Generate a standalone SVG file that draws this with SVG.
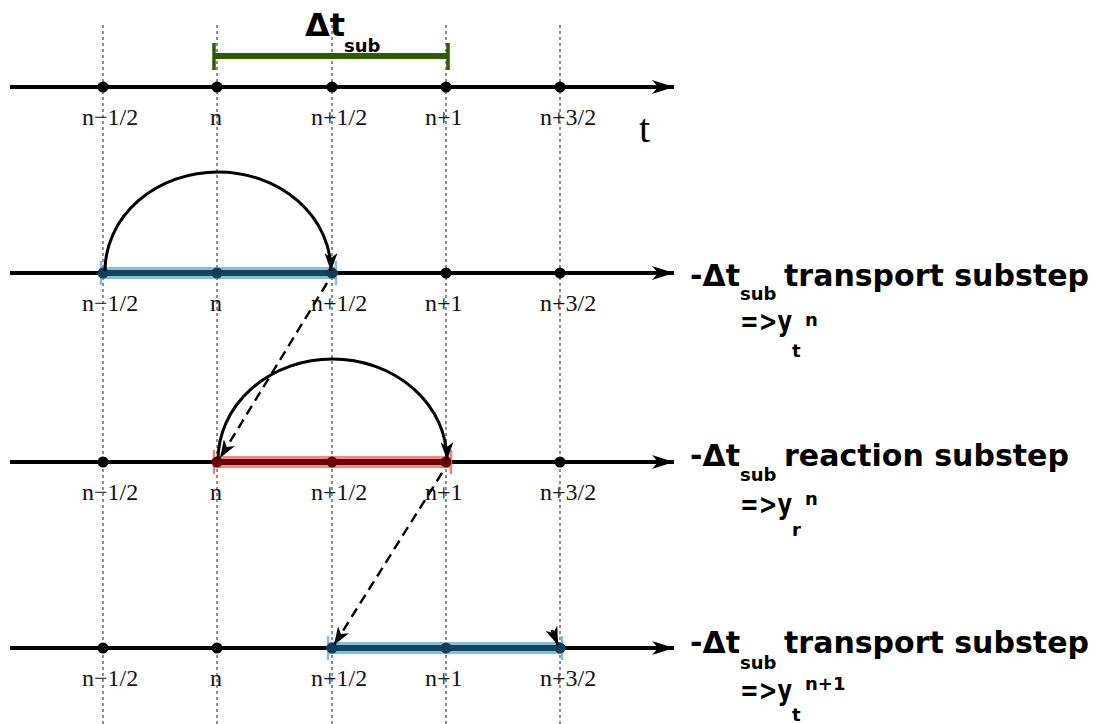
<svg xmlns="http://www.w3.org/2000/svg" width="1098" height="724" viewBox="0 0 1098 724">
<style>
.grid{stroke:#444;stroke-width:1.2;stroke-dasharray:3,3;fill:none}
.axis{stroke:#000;stroke-width:4;fill:none}
.dot{fill:#000}
.lbl{font-family:"Liberation Serif",serif;font-size:24px;fill:#111}
.big{font-family:"DejaVu Sans",sans-serif;font-weight:bold;font-size:30px;fill:#000}
.eq{font-family:"DejaVu Sans",sans-serif;font-weight:bold;font-size:29px;fill:#000}
.sm{font-family:"DejaVu Sans",sans-serif;font-weight:bold;font-size:18px;fill:#000}
.arc{stroke:#000;stroke-width:3;fill:none}
.dash{stroke:#000;stroke-width:2.4;fill:none;stroke-dasharray:10,6}
.bl{stroke:#86bcdc;stroke-width:12}
.bd{stroke:#0f4462;stroke-width:6}
.bt{stroke:#86bcdc;stroke-width:2.5}
.rl{stroke:#ee8a8a;stroke-width:12}
.rd{stroke:#720000;stroke-width:6}
.rt{stroke:#ee8080;stroke-width:2.5}
</style>
<defs>
<marker id="ax" markerUnits="userSpaceOnUse" viewBox="0 0 22 14" refX="22" refY="7" markerWidth="22" markerHeight="14" orient="auto">
<path d="M0,0 L22,7 L0,14 L6,7 Z" fill="#000"/>
</marker>
<marker id="ah" markerUnits="userSpaceOnUse" viewBox="0 0 18 13" refX="18" refY="6.5" markerWidth="18" markerHeight="13" orient="auto">
<path d="M0,0 L18,6.5 L0,13 L5,6.5 Z" fill="#000"/>
</marker>
</defs>
<rect width="1098" height="724" fill="#fff"/>
<g id="gridlines">
<line class="grid" x1="103" y1="25" x2="103" y2="724"/>
<line class="grid" x1="217" y1="25" x2="217" y2="724"/>
<line class="grid" x1="332" y1="25" x2="332" y2="724"/>
<line class="grid" x1="446" y1="25" x2="446" y2="724"/>
<line class="grid" x1="560" y1="25" x2="560" y2="724"/>
</g>
<g id="row1">
<line class="axis" x1="10" y1="87" x2="674" y2="87" marker-end="url(#ax)"/>
<line x1="214" y1="56" x2="448" y2="56" stroke="#2f5b07" stroke-width="6"/>
<line x1="214" y1="43" x2="214" y2="70" stroke="#2f5b07" stroke-width="3.5"/>
<line x1="448" y1="43" x2="448" y2="70" stroke="#2f5b07" stroke-width="3.5"/>
<text class="big" x="305" y="36" style="font-size:32px">Δt</text>
<text class="sm" x="344" y="52">sub</text>
<circle class="dot" cx="103" cy="87" r="5.5"/><circle class="dot" cx="217" cy="87" r="5.5"/><circle class="dot" cx="332" cy="87" r="5.5"/><circle class="dot" cx="446" cy="87" r="5.5"/><circle class="dot" cx="560" cy="87" r="5.5"/>
<text class="lbl" x="82" y="125">n−1/2</text><text class="lbl" x="210" y="125">n</text><text class="lbl" x="311" y="125">n+1/2</text><text class="lbl" x="425" y="125">n+1</text><text class="lbl" x="540" y="125">n+3/2</text>
<text x="639" y="142" style="font-family:'Liberation Serif',serif;font-size:40px">t</text>
</g>
<g id="row2">
<line class="axis" x1="10" y1="273" x2="674" y2="273" marker-end="url(#ax)"/>
<line class="bl" x1="103" y1="273" x2="335" y2="273"/>
<line class="bd" x1="103" y1="273" x2="332" y2="273"/>
<line class="bt" x1="101" y1="261" x2="101" y2="285"/>
<line class="bt" x1="336" y1="261" x2="336" y2="285"/>
<circle cx="103" cy="273" r="5.5" fill="#0f3d5a"/><circle cx="217" cy="273" r="5.5" fill="#0f3d5a"/><circle cx="332" cy="273" r="5.5" fill="#0f3d5a"/><circle class="dot" cx="446" cy="273" r="5.5"/><circle class="dot" cx="560" cy="273" r="5.5"/>
<text class="lbl" x="82" y="311">n−1/2</text><text class="lbl" x="210" y="311">n</text><text class="lbl" x="311" y="311">n+1/2</text><text class="lbl" x="425" y="311">n+1</text><text class="lbl" x="540" y="311">n+3/2</text>
<text class="big" x="690" y="286">-Δt</text><text class="sm" x="740" y="300">sub</text><text class="big" x="784" y="286">transport substep</text>
<text class="eq" x="740" y="331" textLength="52" lengthAdjust="spacingAndGlyphs">=&gt;y</text><text class="sm" x="792" y="357">t</text><text class="sm" x="805" y="326">n</text>
</g>
<g id="row3">
<line class="axis" x1="10" y1="462" x2="674" y2="462" marker-end="url(#ax)"/>
<line class="rl" x1="216" y1="462" x2="450" y2="462"/>
<line class="rd" x1="217" y1="462" x2="446" y2="462"/>
<line class="rt" x1="214" y1="450" x2="214" y2="474"/>
<line class="rt" x1="451" y1="450" x2="451" y2="474"/>
<circle class="dot" cx="103" cy="462" r="5.5"/><circle cx="217" cy="462" r="5.5" fill="#6a0000"/><circle cx="332" cy="462" r="5.5" fill="#6a0000"/><circle cx="446" cy="462" r="5.5" fill="#6a0000"/><circle class="dot" cx="560" cy="462" r="5.5"/>
<text class="lbl" x="82" y="500">n−1/2</text><text class="lbl" x="210" y="500">n</text><text class="lbl" x="311" y="500">n+1/2</text><text class="lbl" x="425" y="500">n+1</text><text class="lbl" x="540" y="500">n+3/2</text>
<text class="big" x="690" y="466">-Δt</text><text class="sm" x="740" y="481">sub</text><text class="big" x="784" y="466">reaction substep</text>
<text class="eq" x="740" y="514" textLength="52" lengthAdjust="spacingAndGlyphs">=&gt;y</text><text class="sm" x="792" y="536">r</text><text class="sm" x="805" y="505">n</text>
</g>
<g id="row4">
<line class="axis" x1="10" y1="648" x2="674" y2="648" marker-end="url(#ax)"/>
<line class="bl" x1="329" y1="648" x2="561" y2="648"/>
<line class="bd" x1="332" y1="648" x2="560" y2="648"/>
<line class="bt" x1="328" y1="636" x2="328" y2="660"/>
<line class="bt" x1="562" y1="636" x2="562" y2="660"/>
<circle class="dot" cx="103" cy="648" r="5.5"/><circle class="dot" cx="217" cy="648" r="5.5"/><circle cx="332" cy="648" r="5.5" fill="#0f3d5a"/><circle cx="446" cy="648" r="5.5" fill="#0f3d5a"/><circle cx="560" cy="648" r="5.5" fill="#0f3d5a"/>
<text class="lbl" x="82" y="686">n−1/2</text><text class="lbl" x="210" y="686">n</text><text class="lbl" x="311" y="686">n+1/2</text><text class="lbl" x="425" y="686">n+1</text><text class="lbl" x="540" y="686">n+3/2</text>
<text class="big" x="690" y="653">-Δt</text><text class="sm" x="740" y="669">sub</text><text class="big" x="784" y="653">transport substep</text>
<text class="eq" x="740" y="700" textLength="52" lengthAdjust="spacingAndGlyphs">=&gt;y</text><text class="sm" x="792" y="721">t</text><text class="sm" x="805" y="690">n+1</text>
</g>
<g id="connectors">
<path class="arc" d="M105,271 A113,99 0 0 1 331,271" marker-end="url(#ah)"/>
<path class="arc" d="M218,460 A114.5,101 0 0 1 447,460" marker-end="url(#ah)"/>
<path class="dash" d="M327,283 L220,458" marker-end="url(#ah)"/>
<path class="dash" d="M442,473 L334,645" marker-end="url(#ah)"/>
<path class="arc" d="M552,630 L558,645" marker-end="url(#ah)"/>
</g>
</svg>
